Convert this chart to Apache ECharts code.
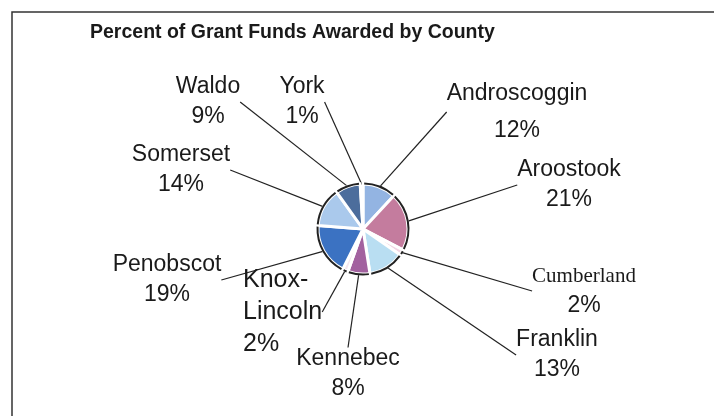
<!DOCTYPE html>
<html><head><meta charset="utf-8">
<script src="https://cdn.jsdelivr.net/npm/echarts@6/dist/echarts.min.js"></script>
<style>html,body{margin:0;padding:0;background:#fff}#c{width:714px;height:416px}</style>
</head><body><div id="c"></div>
<script>
const counties = ['Androscoggin','Aroostook','Cumberland','Franklin','Kennebec','Knox-Lincoln','Penobscot','Somerset','Waldo','York'];
const percents = [12,21,2,13,8,2,19,14,9,1];
const sliceColors = ['#93b4e2','#c47c9e','#f2d6e4','#b9def2','#a2619f','#f4e6ee','#3b72c2','#aac9ec','#4c6d9c','#e2479c'];
const labelCenters = [[517,112],[569,185],[584,291],[557,355],[348,374],[243,312],[167,280],[181,170],[208,102],[302,102]];
const pieCenter = [363,229];

function labelText(name, pct){
  if (name === 'Androscoggin') return '{an|' + name + '}\n{an|' + pct + '%}';
  if (name === 'Cumberland') return '{cu|' + name + '}\n{a|' + pct + '%}';
  if (name === 'Knox-Lincoln') return '{kl|Knox-}\n{kl|Lincoln}\n{kl|' + pct + '%}';
  return '{a|' + name + '}\n{a|' + pct + '%}';
}

const chart = echarts.init(document.getElementById('c'), null, {renderer:'canvas'});
chart.setOption({
  backgroundColor:'#ffffff',
  animation:false,
  title:{
    text:'Percent of Grant Funds Awarded by County',
    left:85, top:18,
    textStyle:{fontFamily:'Liberation Sans', fontWeight:'bold', fontSize:19.5, color:'#1a1a1a'}
  },
  graphic:[{type:'rect', shape:{x:12,y:12,width:720,height:420}, style:{fill:'none', stroke:'#333', lineWidth:1.5}, silent:true}],
  series:[{
    type:'pie',
    center:pieCenter,
    radius:45,
    startAngle:90,
    clockwise:true,
    avoidLabelOverlap:false,
    data: counties.map((n,i)=>({name:n, value:percents[i], itemStyle:{color:sliceColors[i]}})),
    itemStyle:{borderColor:'#ffffff', borderWidth:3},
    label:{
      show:true, position:'outside', color:'#1a1a1a',
      formatter: p => labelText(p.name, p.value),
      rich:{
        a:{fontFamily:'Liberation Sans', fontSize:23, lineHeight:30, color:'#1a1a1a'},
        an:{fontFamily:'Liberation Sans', fontSize:23, lineHeight:37, color:'#1a1a1a'},
        cu:{fontFamily:'Liberation Serif', fontSize:21, lineHeight:30, color:'#1a1a1a'},
        kl:{fontFamily:'Liberation Sans', fontSize:25, lineHeight:32, color:'#1a1a1a'}
      }
    },
    labelLine:{show:true, length:20, length2:0, lineStyle:{color:'#222', width:1.2}},
    labelLayout: function(params){
      const i = params.dataIndex;
      const c = labelCenters[i];
      const w = params.labelRect.width, h = params.labelRect.height;
      const leftAligned = counties[i]==='Knox-Lincoln';
      const cx = leftAligned ? c[0] + w/2 : c[0];
      let end;
      if (cx + w/2 < pieCenter[0]) end = [cx + w/2, c[1]];
      else if (cx - w/2 > pieCenter[0]) end = [cx - w/2, c[1]];
      else end = [cx, c[1] - h/2];
      const start = params.labelLinePoints ? params.labelLinePoints[0] : end;
      return {x:c[0], y:c[1], align: leftAligned ? 'left' : 'center', verticalAlign:'middle',
              labelLinePoints:[start, end, end]};
    }
  },{
    type:'pie',
    center:pieCenter,
    radius:[44.5,46.5],
    startAngle:90,
    padAngle:3,
    silent:true,
    data: counties.map((n,i)=>({name:n, value:percents[i], itemStyle:{color:'#222'}})),
    label:{show:false}, labelLine:{show:false}
  }]
});
</script>
</body></html>
